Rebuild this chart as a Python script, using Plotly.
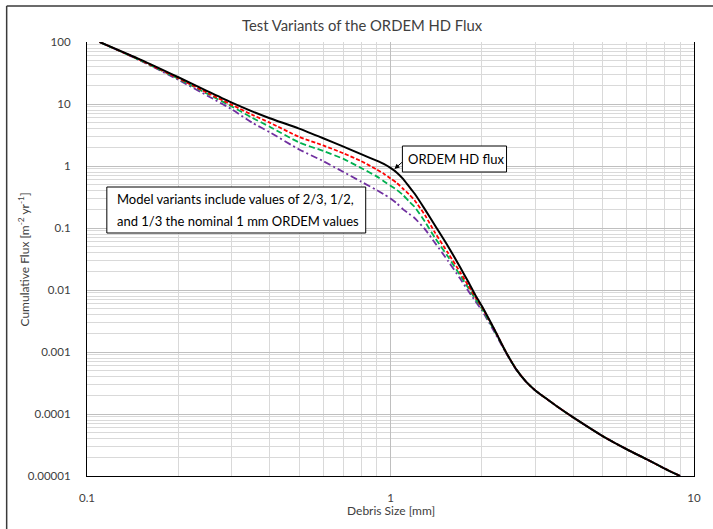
import plotly.graph_objects as go

# ---------------- data ----------------
size_mm = [0.11, 0.15, 0.2, 0.25, 0.3, 0.35, 0.4, 0.5, 0.6, 0.7, 0.8, 0.9, 0.95, 1.0,
           1.05, 1.1, 1.15, 1.2, 1.3, 1.4, 1.55, 1.7, 1.8, 1.9, 2.0, 2.2, 2.4, 2.6,
           2.8, 3.0, 3.3, 3.6, 4.0, 5.0, 6.0, 7.0, 8.0, 9.0]

flux_nominal = [100, 52, 27, 16, 10.5, 7.6, 5.9, 4.0, 2.8, 2.05, 1.55, 1.22, 1.08, 0.93,
                0.78, 0.62, 0.47, 0.36, 0.198, 0.111, 0.05, 0.0228, 0.0138, 0.0084,
                0.0055, 0.0023, 0.001, 0.00052, 0.00033, 0.00024, 0.00017, 0.000125,
                0.000088, 0.000044, 0.000027, 0.0000185, 0.0000132, 0.00001]

flux_two_thirds = [100, 51, 26, 15, 9.7, 6.7, 5.0, 2.95, 2.15, 1.6, 1.2, 0.88, 0.75, 0.63,
                   0.53, 0.43, 0.35, 0.28, 0.16, 0.085, 0.039, 0.019, 0.012, 0.0078,
                   0.0053, 0.0023, 0.001, 0.00052, 0.00033, 0.00024, 0.00017, 0.000125,
                   0.000088, 0.000044, 0.000027, 0.0000185, 0.0000132, 0.00001]

flux_half = [100, 50.5, 25.5, 14.5, 9.1, 6.0, 4.3, 2.4, 1.75, 1.3, 0.93, 0.68, 0.57, 0.48,
             0.41, 0.34, 0.27, 0.22, 0.125, 0.07, 0.034, 0.017, 0.011, 0.0073,
             0.005, 0.0022, 0.001, 0.00052, 0.00033, 0.00024, 0.00017, 0.000125,
             0.000088, 0.000044, 0.000027, 0.0000185, 0.0000132, 0.00001]

flux_third = [100, 50, 24.5, 13.5, 8.2, 5.0, 3.5, 1.85, 1.2, 0.8, 0.56, 0.41, 0.35, 0.3,
              0.25, 0.2, 0.17, 0.145, 0.095, 0.058, 0.029, 0.015, 0.0098, 0.0067,
              0.0047, 0.0021, 0.00097, 0.00051, 0.00033, 0.00024, 0.00017, 0.000125,
              0.000088, 0.000044, 0.000027, 0.0000185, 0.0000132, 0.00001]

y_tick_values = [100, 10, 1, 0.1, 0.01, 0.001, 0.0001, 0.00001]
y_tick_labels = ["100", "10", "1", "0.1", "0.01", "0.001", "0.0001", "0.00001"]
x_tick_values = [0.1, 1, 10]
x_tick_labels = ["0.1", "1", "10"]

title_text = "Test Variants of the ORDEM HD Flux"
x_title = "Debris Size [mm]"
y_title = "Cumulative Flux [m<sup>-2</sup> yr<sup>-1</sup>]"
note_variants_lines = ["Model variants include values of 2/3, 1/2,",
                       "and 1/3 the nominal 1 mm ORDEM values"]
note_nominal = "ORDEM HD flux"

# ---------------- layout geometry ----------------
W, H = 713, 529
L, R, T, B = 87, 14, 42, 53
PW, PH = W - L - R, H - T - B


def px(xp):
    return (xp - L) / PW


def py(yp):
    return (H - B - yp) / PH


FONT = "Lato, 'Open Sans', sans-serif"
TXT = "#404040"

fig = go.Figure()

series = [
    (flux_third, "#7030A0", "7px,3px,2px,3px", 1.8),
    (flux_half, "#00B050", "6px,3px", 1.8),
    (flux_two_thirds, "#FF0000", "4px,2px", 1.8),
    (flux_nominal, "#000000", "solid", 2.0),
]
for ys, col, dash, w in series:
    fig.add_trace(go.Scatter(x=size_mm, y=ys, mode="lines",
                             line=dict(color=col, dash=dash, width=w, shape="spline", smoothing=0.6),
                             showlegend=False, hoverinfo="skip"))

fig.update_xaxes(type="log", range=[-1, 1],
                 tickmode="array", tickvals=x_tick_values, ticktext=x_tick_labels,
                 showgrid=True, gridcolor="#BFBFBF", gridwidth=1,
                 minor=dict(showgrid=True, gridcolor="#D9D9D9", gridwidth=1, dtick="D1", tickmode="linear"),
                 showline=True, linecolor="#000000", linewidth=1.2,
                 ticks="", ticklabelstandoff=11,
                 tickfont=dict(family=FONT, size=11.5, color=TXT), zeroline=False)
fig.update_yaxes(type="log", range=[-5, 2],
                 tickmode="array", tickvals=y_tick_values, ticktext=y_tick_labels,
                 showgrid=True, gridcolor="#BFBFBF", gridwidth=1,
                 minor=dict(showgrid=True, gridcolor="#D9D9D9", gridwidth=1, dtick="D1", tickmode="linear"),
                 showline=True, linecolor="#000000", linewidth=1.2, mirror=True,
                 ticks="", ticklabelstandoff=13,
                 tickfont=dict(family=FONT, size=11.5, color=TXT), zeroline=False)

shapes = [
    # outer chart frame (left and top edges visible)
    dict(type="line", xref="paper", yref="paper", x0=px(6), x1=px(6), y0=py(6), y1=py(540),
         line=dict(color="#3a3a3a", width=1.5)),
    dict(type="line", xref="paper", yref="paper", x0=px(6), x1=px(720), y0=py(6), y1=py(6),
         line=dict(color="#3a3a3a", width=1.5)),
    # annotation boxes
    dict(type="rect", xref="paper", yref="paper", x0=px(107), x1=px(368), y0=py(187), y1=py(233),
         fillcolor="white", line=dict(color="#000000", width=1), layer="above"),
    dict(type="rect", xref="paper", yref="paper", x0=px(405), x1=px(510), y0=py(146), y1=py(172),
         fillcolor="white", line=dict(color="#000000", width=1), layer="above"),
]

annotations = [
    dict(text=title_text, xref="paper", yref="paper", x=px(365), y=py(25),
         xanchor="center", yanchor="middle", showarrow=False,
         font=dict(family=FONT, size=14.8, color=TXT)),
    dict(text=x_title, xref="paper", yref="paper", x=px(393), y=py(510),
         xanchor="center", yanchor="middle", showarrow=False,
         font=dict(family=FONT, size=12, color=TXT)),
    dict(text=y_title, xref="paper", yref="paper", x=px(23), y=py(260), textangle=-90,
         xanchor="center", yanchor="middle", showarrow=False,
         font=dict(family=FONT, size=12, color=TXT)),
    dict(text=note_variants_lines[0], xref="paper", yref="paper", x=px(115), y=py(199),
         xanchor="left", yanchor="middle", align="left", showarrow=False,
         font=dict(family=FONT, size=13, color="#000000")),
    dict(text=note_variants_lines[1], xref="paper", yref="paper", x=px(115), y=py(221),
         xanchor="left", yanchor="middle", align="left", showarrow=False,
         font=dict(family=FONT, size=13, color="#000000")),
    dict(text=note_nominal, xref="paper", yref="paper", x=px(459), y=py(159),
         xanchor="center", yanchor="middle", showarrow=False,
         font=dict(family=FONT, size=13, color="#000000")),
    dict(text="", xref="paper", yref="paper", x=px(397), y=py(169), ax=9, ay=-8,
         showarrow=True, arrowhead=2, arrowsize=1, arrowwidth=1, arrowcolor="#000000",
         standoff=0),
]

fig.update_layout(width=W, height=H, margin=dict(l=L, r=R, t=T, b=B, pad=0),
                  paper_bgcolor="white", plot_bgcolor="white",
                  shapes=shapes, annotations=annotations, showlegend=False)

fig.write_html("out.html")
